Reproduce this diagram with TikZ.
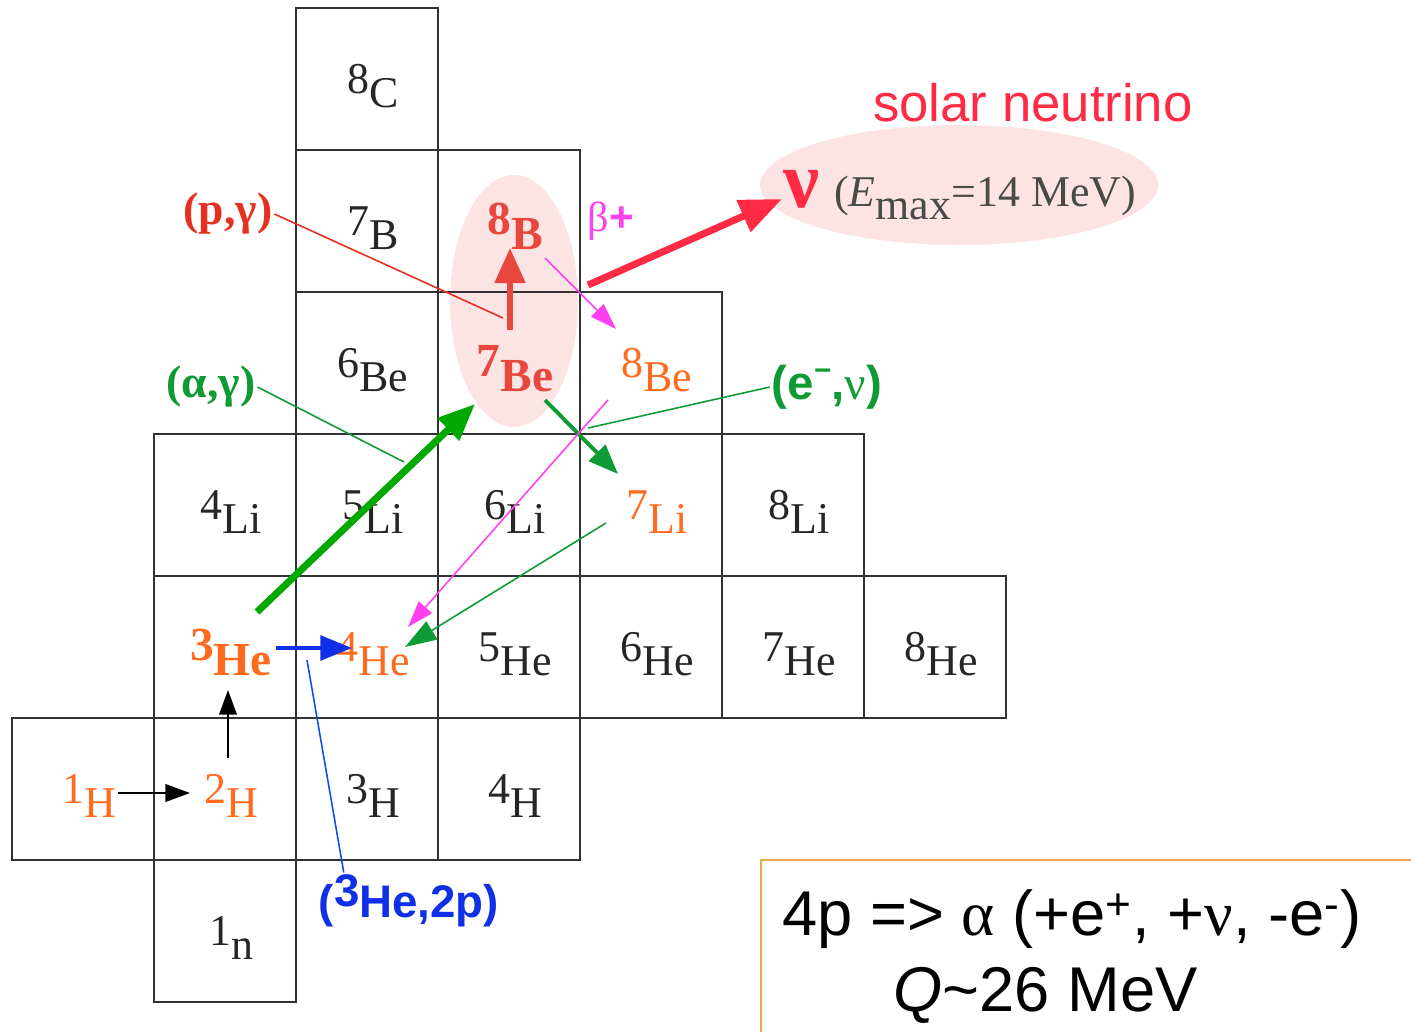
\documentclass[tikz,border=0pt]{standalone}
\usepackage{fontspec}
\setmainfont{Liberation Serif}
\setsansfont{Liberation Sans}
\usetikzlibrary{arrows.meta}
\definecolor{corange}{HTML}{FF6A1E}
\definecolor{cred}{HTML}{E8473D}
\definecolor{cpg}{HTML}{E5301F}
\definecolor{cgreen}{HTML}{00A800}
\definecolor{cdgreen}{HTML}{0E9A35}
\definecolor{cmag}{HTML}{FF40F0}
\definecolor{cblue}{HTML}{1030E8}
\definecolor{cpink}{HTML}{FCE4E4}
\definecolor{cnu}{HTML}{FF2B45}
\definecolor{cbox}{HTML}{F0A848}
\definecolor{cgrey}{HTML}{4A4A4A}
\newcommand\iso[2]{\raisebox{0.3em}{#1}#2}
\tikzset{
  cell/.style={draw=black!80, line width=1.5pt},
  nuc/.style={anchor=base, font=\fontsize{25}{25}\selectfont, inner sep=0pt},
  npl/.style={text=black!85},
  nor/.style={text=corange},
  norb/.style={text=corange, font=\fontsize{27}{27}\selectfont\bfseries},
  nredb/.style={text=cred, font=\fontsize{27}{27}\selectfont\bfseries},
  react/.style={font=\fontsize{26}{26}\selectfont\bfseries, inner sep=1pt},
  lead/.style={line width=0.9pt},
  karrow/.style={draw=black, line width=1.1pt, -{Triangle[length=14pt, width=10pt]}},
  barrow/.style={draw=cblue, line width=2.3pt, -{Triangle[length=18pt, width=14pt]}},
  garrow/.style={draw=cgreen, line width=4pt, -{Triangle[length=21pt, width=17pt]}},
  rarrow/.style={draw=cred, line width=3.4pt, -{Triangle[length=20pt, width=17pt]}},
  nuarrow/.style={draw=cnu, line width=4pt, -{Triangle[length=24pt, width=19pt]}},
  dgarrow/.style={draw=cdgreen, line width=2.2pt, -{Triangle[length=17pt, width=13pt]}},
  marrow/.style={draw=cmag, line width=0.9pt, -{Triangle[length=15pt, width=10pt]}},
  tgarrow/.style={draw=cdgreen, line width=0.9pt, -{Triangle[length=18pt, width=12pt]}},
}
\begin{document}
\begin{tikzpicture}[x=0.02cm, y=-0.02cm]
  \useasboundingbox (0,0) rectangle (1411,1032);
  % pink halos
  \fill[cpink] (514,301) ellipse (64 and 126);
  \fill[cpink] (959,185) ellipse (199 and 60);
  % chart of nuclides, column = N, row = Z
  \foreach \c/\r/\a/\el/\sty in {2/6/8/C/npl, 2/5/7/B/npl, 3/5/8/B/nredb,
      2/4/6/Be/npl, 3/4/7/Be/nredb, 4/4/8/Be/nor,
      1/3/4/Li/npl, 2/3/5/Li/npl, 3/3/6/Li/npl, 4/3/7/Li/nor, 5/3/8/Li/npl,
      1/2/3/He/norb, 2/2/4/He/nor, 3/2/5/He/npl, 4/2/6/He/npl, 5/2/7/He/npl, 6/2/8/He/npl,
      0/1/1/H/nor, 1/1/2/H/nor, 2/1/3/H/npl, 3/1/4/H/npl, 1/0/1/n/npl}
  {
    \draw[cell] ({12+142*\c},{860-142*\r}) rectangle ++(142,142);
    \node[nuc, \sty] (\el\a) at ({89+142*\c},{959-142*\r}) {\iso{\a}{\el}};
  }
  % reaction labels
  \node[react, text=cpg] (pg) at (228,214) {(p,γ)};
  \node[react, text=cdgreen] (ag) at (211,387) {(α,γ)};
  \node[react, text=cdgreen, font=\fontsize{27}{27}\selectfont\sffamily\bfseries] (env) at (827,387) {(e\raisebox{0.4em}{\fontsize{17}{17}\selectfont −},{\rmfamily\mdseries ν})};
  \node[text=cmag, font=\fontsize{24}{24}\selectfont, inner sep=1pt] (bplus) at (611,221) {β{\sffamily\bfseries +}};
  \node[react, text=cblue, font=\fontsize{26}{26}\selectfont\sffamily\bfseries] (hetwop) at (409,901) {(\raisebox{0.25em}{3}He,2p)};
  \node[text=cnu, font=\fontsize{30}{30}\selectfont\sffamily] (solar) at (1033,103) {solar neutrino};
  \node[text=cnu, font=\fontsize{46}{46}\selectfont\bfseries] (nu) at (802,189) {ν};
  \node[text=cgrey, font=\fontsize{25}{25}\selectfont, anchor=base west, inner sep=0pt] (emax) at (834,206) {(\textit{E}\raisebox{-0.3em}{max}=14 MeV)};
  % arrow end points
  \coordinate (h1r) at (118,793);   \coordinate (h2l) at (190,793);
  \coordinate (h2t) at (228,758);   \coordinate (he3b) at (228,690);
  \coordinate (he3r) at (276,648);  \coordinate (he4l) at (352,648);
  \coordinate (he3t) at (257,612);  \coordinate (be7b) at (475,404);
  \coordinate (be7t) at (510,330);  \coordinate (b8b) at (510,248);
  \coordinate (b8r) at (588,285);   \coordinate (nul) at (782,199);
  \coordinate (be7r) at (545,400);  \coordinate (li7t) at (618,474);
  \coordinate (b8d) at (545,258);   \coordinate (be8t) at (616,329);
  \coordinate (be8d) at (608,400);  \coordinate (he4m) at (408,627);
  \coordinate (li7l) at (606,523);  \coordinate (he4r) at (405,647);
  \coordinate (pgend) at (503,318); \coordinate (agend) at (404,462);
  \coordinate (envend) at (588,428); \coordinate (hetwopend) at (307,660);
  % pp chain
  \draw[karrow] (h1r) -- (h2l);
  \draw[karrow] (h2t) -- (he3b);
  \draw[lead, cblue!85!cyan] (hetwop.north west) ++(27,0) coordinate (hetwopstart) -- (hetwopend);
  \draw[barrow] (he3r) -- (he4l);
  \draw[lead, cdgreen] (ag.east) -- (agend);
  \draw[garrow] (he3t) -- (be7b);
  \draw[lead, cpg] (pg.east) -- (pgend);
  \draw[rarrow] (be7t) -- (b8b);
  \draw[nuarrow] (b8r) -- (nul);
  \draw[marrow] (b8d) -- (be8t);
  \draw[lead, cdgreen] (env.west) -- (envend);
  \draw[dgarrow] (be7r) -- (li7t);
  \draw[marrow] (be8d) -- (he4m);
  \draw[tgarrow] (li7l) -- (he4r);
  % summary box
  \draw[cbox, line width=1pt] (1411,860) -- (761,860) -- (761,1032);
  \node[anchor=base west, inner sep=0pt, font=\fontsize{36}{36}\selectfont\sffamily] (sumA) at (782,935) {4p => {\rmfamily α} (+e\textsuperscript{+}, +{\rmfamily ν}, -e\textsuperscript{-})};
  \node[anchor=base west, inner sep=0pt, font=\fontsize{36}{36}\selectfont\sffamily] (sumB) at (893,1011) {\textit{Q}\textasciitilde26 MeV};
\end{tikzpicture}
\end{document}
